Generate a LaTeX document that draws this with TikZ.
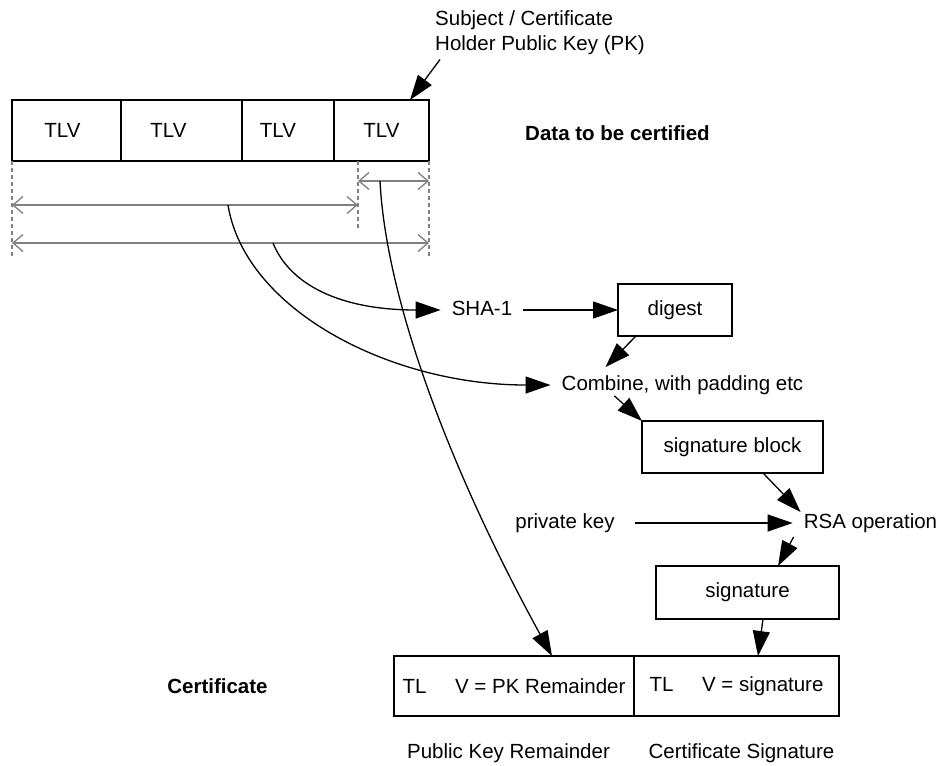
\documentclass[tikz,border=0pt]{standalone}
\usepackage{fontspec}
\setmainfont{Liberation Sans}
\usetikzlibrary{arrows.meta,positioning,calc}
\newcommand{\dfont}{\fontsize{20.5}{25}\selectfont}

\begin{document}
\begin{tikzpicture}[
  x=1pt, y=-1pt,
  every node/.style={font=\dfont},
  % boxes, text labels, black arrows, gray dimension lines
  B/.style={rectangle, draw, line width=1.4pt, inner sep=0pt, outer sep=0pt,
            minimum height=52pt},
  T/.style={inner xsep=11pt, inner ysep=8pt, text height=15pt, text depth=4.5pt},
  earr/.style={-{Triangle[length=25pt,width=17pt]}, line width=1.3pt},
  darr/.style={{Straight Barb[length=10pt,width=17pt]}-{Straight Barb[length=10pt,width=17pt]},
               gray, line width=1.3pt},
  dsh/.style={gray, line width=1.2pt, dash pattern=on 4pt off 3pt},
]
\useasboundingbox (0,0) rectangle (943,766);

%% -- Data to be certified ---------------------------------------------
\node[B, minimum width=109pt, minimum height=61pt, anchor=north west] (tlv1) at (12,100) {TLV\kern8pt};
\node[B, minimum width=121pt, minimum height=61pt, right=0pt of tlv1] (tlv2) {TLV\kern26pt};
\node[B, minimum width=92pt,  minimum height=61pt, right=0pt of tlv2] (tlv3) {TLV\kern20pt};
\node[B, minimum width=95pt,  minimum height=61pt, right=0pt of tlv3] (tlv4) {TLV};

\node[align=left, inner sep=0pt, anchor=north west] (subj) at (435,10)
  {Subject / Certificate\\Holder Public Key (PK)};
\node[font=\dfont\bfseries] (dtbc) at (617.5,133) {Data to be certified};

%% -- Dimension lines --------------------------------------------------
\coordinate (pkl) at ([xshift=24pt]tlv4.south west);
\coordinate (g1) at (12,257);
\coordinate (g2) at (358,230);
\coordinate (g3) at (429,257);
\draw[dsh] (tlv1.south west) -- (g1);
\draw[dsh] (pkl) -- (g2);
\draw[dsh] (tlv4.south east) -- (g3);

\coordinate (a1) at (358,181); \coordinate (a2) at (429,181);
\coordinate (b1) at (12,205);  \coordinate (b2) at (358,205);
\coordinate (c1) at (12,243);  \coordinate (c2) at (429,243);
\draw[darr] (a1) -- (a2);
\draw[darr] (b1) -- (b2);
\draw[darr] (c1) -- (c2);

%% -- Signing ----------------------------------------------------------
\node[T] (sha) at (482,310) {SHA-1};
\node[B, minimum width=114pt] (dig) at (675,310) {digest};
\node[T] (comb) at (682.5,385) {Combine, with padding etc};
\node[B, minimum width=181pt] (sblk) at (732.5,447) {signature block};
\node[T] (pkey) at (565,523) {private key};
\node[T] (rsa) at (870.5,523) {RSA operation};
\node[B, minimum width=183pt, minimum height=53pt] (sig) at (747.5,592.5) {signature};

%% -- Certificate ------------------------------------------------------
\node[B, minimum width=240pt, minimum height=60pt] (pkr) at (514,686)
  {TL\hspace{1.4em}V = PK Remainder};
\node[B, minimum width=205pt, minimum height=60pt, right=0pt of pkr] (csig)
  {TL\hspace{1.4em}V = signature};
\node[font=\dfont\bfseries] (cert) at (217.5,686) {Certificate};
\node (lpkr)  at (508.5,753) {Public Key Remainder};
\node (lcsig) at (741.5,753) {Certificate Signature};

%% -- Arrows -----------------------------------------------------------
\coordinate (s1) at (228,205);
\coordinate (s2) at (273,243);
\coordinate (s3) at (380,181);
\draw[earr] (s2) .. controls +(17,42) and +(-100,0) .. (sha.west);
\draw[earr] (s1) .. controls +(17,105) and +(-160,0) .. (comb.west);
\draw[earr] (s3) .. controls +(6,119) and +(-102,-186) .. ([xshift=158pt]pkr.north west);

\draw[earr] ([xshift=5pt,yshift=-5pt]subj.south west) -- ([xshift=76pt]tlv4.north west);
\draw[earr] (sha) -- (dig);
\draw[earr] ([xshift=18pt]dig.south west) -- ([xshift=55pt]comb.north west);
\draw[earr] ([xshift=64pt,yshift=7pt]comb.south west) -- (sblk.north west);
\draw[earr] ([xshift=121pt]sblk.south west) -- ([xshift=8pt,yshift=-7pt]rsa.north west);
\draw[earr, shorten <=9pt] (pkey) -- (rsa);
\draw[earr] ([xshift=1pt,yshift=4pt]rsa.south west) -- ([xshift=122pt]sig.north west);
\draw[earr] ([xshift=107pt]sig.south west) -- ([xshift=124pt]csig.north west);

\end{tikzpicture}
\end{document}
